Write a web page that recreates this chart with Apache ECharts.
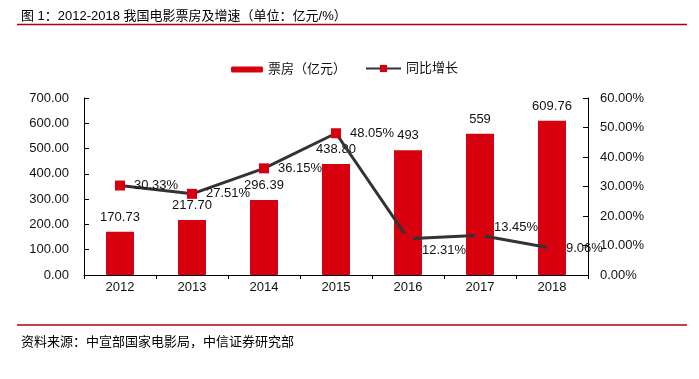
<!DOCTYPE html>
<html>
<head>
<meta charset="utf-8">
<script src="https://cdn.jsdelivr.net/npm/echarts@6/dist/echarts.min.js"></script>
<style>
html,body{margin:0;padding:0;background:#fff;}
#main{width:699px;height:379px;}
</style>
</head>
<body>
<div id="main"></div>
<script>
const years = ['2012','2013','2014','2015','2016','2017','2018'];
const boxOffice = [170.73, 217.70, 296.39, 438.80, 493, 559, 609.76];
const boxOfficeLabels = ['170.73','217.70','296.39','438.80','493','559','609.76'];
const growth = [30.33, 27.51, 36.15, 48.05, 12.31, 13.45, 9.06];
const leftTicks = [0,100,200,300,400,500,600,700];
const rightTicks = [0,10,20,30,40,50,60];

const FONT = '"Liberation Sans", Arial, "Noto Sans CJK SC", sans-serif';
const RED = '#d7000f';
const DARK = '#333333';
const TXT = '#111111';

const chart = echarts.init(document.getElementById('main'));

const lineLabelOffsets = [[0,0],[0,0],[0,0],[0,0],[0,12],[0,-8],[0,0]];

chart.setOption({
  animation: false,
  textStyle: {fontFamily: FONT},
  title: [
    {text: '图 1：2012-2018 我国电影票房及增速（单位：亿元/%）', left: 16, top: 5,
     textStyle: {fontFamily: FONT, fontSize: 13, fontWeight: 'normal', color: '#000'}},
    {text: '资料来源：中宣部国家电影局，中信证券研究部', left: 16, top: 331,
     textStyle: {fontFamily: FONT, fontSize: 13, fontWeight: 'normal', color: '#000'}}
  ],
  graphic: [
    {type: 'line', shape: {x1: 17, y1: 24.5, x2: 687, y2: 24.5}, style: {stroke: '#b00010', lineWidth: 1.5}},
    {type: 'line', shape: {x1: 17, y1: 325, x2: 687, y2: 325}, style: {stroke: '#b00010', lineWidth: 1.5}}
  ],
  legend: [
    {data: ['票房（亿元）'], left: 226, top: 58, itemWidth: 32, itemHeight: 6, itemGap: 5,
     textStyle: {fontFamily: FONT, fontSize: 13, color: TXT}},
    {data: ['同比增长'], left: 360, top: 57, itemWidth: 35, itemHeight: 9,
     textStyle: {fontFamily: FONT, fontSize: 13, color: TXT}}
  ],
  grid: {left: 84, right: 111, top: 98, bottom: 104},
  xAxis: {
    type: 'category', data: years, boundaryGap: true,
    axisLine: {lineStyle: {color: '#000', width: 1}},
    axisTick: {show: true, length: 4, lineStyle: {color: '#000'}},
    axisLabel: {fontFamily: FONT, fontSize: 13, color: TXT, margin: 6}
  },
  yAxis: [
    {type: 'value', min: 0, max: 700, interval: 100,
     axisLine: {show: true, lineStyle: {color: '#000', width: 1}},
     axisTick: {show: true, inside: true, length: 5, lineStyle: {color: '#000'}},
     splitLine: {show: false},
     axisLabel: {fontFamily: FONT, fontSize: 13, color: TXT, margin: 15,
       formatter: v => v.toFixed(2)}},
    {type: 'value', min: 0, max: 60, interval: 10,
     axisLine: {show: true, lineStyle: {color: '#000', width: 1}},
     axisTick: {show: true, inside: true, length: 5, lineStyle: {color: '#000'}},
     splitLine: {show: false},
     axisLabel: {fontFamily: FONT, fontSize: 13, color: TXT, margin: 12,
       formatter: v => v.toFixed(2) + '%'}}
  ],
  series: [
    {name: '票房（亿元）', type: 'bar', yAxisIndex: 0, barWidth: 28,
     itemStyle: {color: RED},
     data: boxOffice,
     label: {show: true, position: 'top', distance: 8, fontFamily: FONT, fontSize: 13, color: TXT,
       formatter: p => boxOfficeLabels[p.dataIndex]}},
    {name: '同比增长', type: 'line', yAxisIndex: 1, z: 5,
     symbol: 'rect', symbolSize: 10,
     lineStyle: {color: DARK, width: 3},
     itemStyle: {color: RED},
     data: growth.map((v, i) => ({
       value: v,
       label: {show: true, position: 'right', distance: 9, offset: lineLabelOffsets[i],
         fontFamily: FONT, fontSize: 13, color: TXT, formatter: p => p.value.toFixed(2) + '%'}
     }))}
  ]
});
</script>
</body>
</html>
